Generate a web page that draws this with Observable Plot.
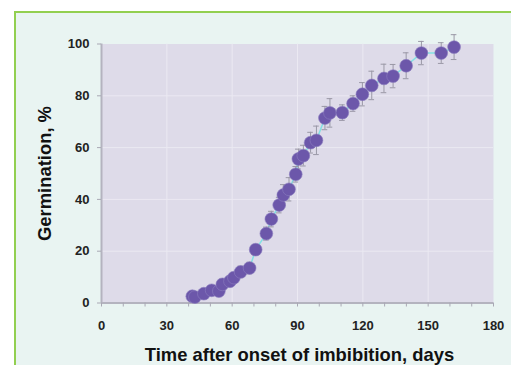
<!DOCTYPE html>
<html>
<head>
<meta charset="utf-8">
<script src="https://cdn.jsdelivr.net/npm/d3@7"></script>
<script src="https://cdn.jsdelivr.net/npm/@observablehq/plot@0.6"></script>
<style>
  html, body { margin: 0; padding: 0; background: #ffffff; overflow: hidden; }
  #wrap { position: relative; width: 511px; height: 365px; }
  #panel { position: absolute; left: 14px; top: 11px; width: 520px; height: 380px;
           border-top: 2px solid #92cf50; border-left: 2px solid #92cf50; background: #e9f4f2; }
  #chart { position: absolute; left: 0; top: 0; }
</style>
</head>
<body>
<div id="wrap"><div id="panel"></div><div id="chart"></div></div>
<script>
const days = [41.7, 42.9, 47.0, 50.6, 53.9, 55.5, 59.0, 60.8, 63.9, 68.0, 70.8, 75.7, 78.0, 81.6, 83.5, 86.1, 89.2, 90.4, 92.7, 96.0, 98.7, 102.6, 104.9, 110.6, 115.5, 119.8, 124.1, 129.7, 133.9, 139.9, 146.9, 156.0, 161.9];
const germination = [2.6, 2.3, 3.6, 4.9, 4.6, 7.2, 8.4, 9.8, 12.0, 13.5, 20.6, 26.8, 32.4, 37.8, 41.7, 43.9, 49.7, 55.6, 56.9, 61.9, 62.8, 71.4, 73.4, 73.5, 77.0, 80.6, 84.0, 86.7, 87.6, 91.6, 96.5, 96.5, 98.8];
const errors = [1.5, 1.5, 1.5, 1.8, 1.8, 2, 2, 2, 2.2, 2.2, 2, 2.5, 3, 3, 4, 4.5, 3, 3.8, 4, 4, 5.5, 4.5, 5.5, 3, 3, 4.5, 5.5, 5.5, 4.5, 5, 4.5, 4, 4.8];
const xTicks = [0, 30, 60, 90, 120, 150, 180];
const xMinorTicks = d3.range(0, 181, 10);
const yTicks = [0, 20, 40, 60, 80, 100];
const xTitle = "Time after onset of imbibition, days";
const yTitle = "Germination, %";

const data = days.map((x, i) => ({x, y: germination[i], e: errors[i]}));
const capHalf = 1.3;

const chart = Plot.plot({
  width: 511,
  height: 365,
  marginLeft: 101,
  marginRight: 18,
  marginTop: 43.5,
  marginBottom: 62.5,
  style: {background: "transparent", fontFamily: "'Liberation Sans', Arial, sans-serif"},
  x: {domain: [0, 180]},
  y: {domain: [0, 100]},
  marks: [
    Plot.frame({fill: "#dedbe9", stroke: null}),
    Plot.gridX(xTicks.slice(1, -1), {stroke: "#ebe9f2", strokeOpacity: 1, strokeWidth: 1}),
    Plot.gridY(yTicks.slice(1, -1), {stroke: "#ebe9f2", strokeOpacity: 1, strokeWidth: 1}),
    Plot.ruleY([0], {stroke: "#b4b3bf", strokeWidth: 2}),
    Plot.ruleX([0], {stroke: "#b4b3bf", strokeWidth: 2}),
    Plot.axisX({ticks: xMinorTicks, tickSize: 4, tickFormat: () => "", stroke: "#a9a8b4", label: null}),
    Plot.axisX({ticks: xTicks, tickSize: 0, tickPadding: 18, fontSize: 13, fontWeight: "bold", fill: "#222", label: null}),
    Plot.axisY({ticks: yTicks, tickSize: 4, tickPadding: 8, fontSize: 13, fontWeight: "bold", fill: "#222", stroke: "#a9a8b4", label: null}),
    Plot.line(data, {x: "x", y: "y", stroke: "#82e2e4", strokeWidth: 1.5}),
    Plot.ruleX(data, {x: "x", y1: d => d.y - d.e, y2: d => d.y + d.e, stroke: "#9a98a6", strokeWidth: 1}),
    Plot.ruleY(data, {y: d => d.y + d.e, x1: d => d.x - capHalf, x2: d => d.x + capHalf, stroke: "#9a98a6", strokeWidth: 1}),
    Plot.ruleY(data, {y: d => d.y - d.e, x1: d => d.x - capHalf, x2: d => d.x + capHalf, stroke: "#9a98a6", strokeWidth: 1}),
    Plot.dot(data, {x: "x", y: "y", r: 6.4, fill: "#6c57aa", stroke: "#8c7dbf", strokeWidth: 0.6}),
    Plot.text([xTitle], {frameAnchor: "bottom", dy: 58, dx: 2, fontSize: 18.4, fontWeight: "bold", fill: "#111"}),
    Plot.text([yTitle], {frameAnchor: "left", textAnchor: "middle", dx: -56, rotate: -90, fontSize: 18.4, fontWeight: "bold", fill: "#111"})
  ]
});
document.getElementById("chart").appendChild(chart);
</script>
</body>
</html>
